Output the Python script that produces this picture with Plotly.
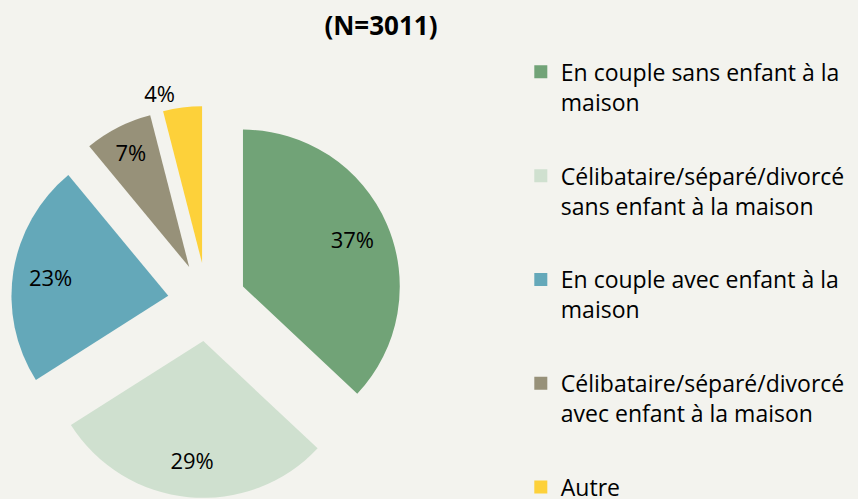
import plotly.graph_objects as go

categories = [
    "En couple sans enfant à la<br>maison",
    "Célibataire/séparé/divorcé<br>sans enfant à la maison",
    "En couple avec enfant à la<br>maison",
    "Célibataire/séparé/divorcé<br>avec enfant à la maison",
    "Autre",
]
values = [37, 29, 23, 7, 4]
colors = ["#71a377", "#cfe0cf", "#64a8b9", "#979179", "#fdd13a"]
title_text = "(N=3011)"

pie_domain = dict(x=[0.0128, 0.4697], y=[0.002, 0.7876])
pulls = [0.25] * len(values)

fig = go.Figure()
# coloured slices
fig.add_trace(go.Pie(
    labels=categories,
    values=values,
    sort=False,
    direction="clockwise",
    rotation=0,
    pull=pulls,
    marker=dict(colors=colors, line=dict(width=0)),
    textinfo="percent",
    texttemplate=["", "", "", "", "%{percent:.0%}"],
    textposition=["none", "none", "none", "none", "outside"],
    textfont=dict(family="Open Sans", size=22, color="#000000"),
    domain=pie_domain,
    hoverinfo="label+percent",
    showlegend=False,
))
# transparent ring carrying the percentage labels further out in each slice
fig.add_trace(go.Pie(
    labels=categories,
    values=values,
    sort=False,
    direction="clockwise",
    rotation=0,
    pull=pulls,
    hole=0.52,
    marker=dict(colors=["rgba(0,0,0,0)"] * len(values), line=dict(width=0)),
    textinfo="percent",
    texttemplate=["%{percent:.0%}"] * 4 + [""],
    textposition=["inside", "inside", "inside", "inside", "none"],
    insidetextorientation="horizontal",
    textfont=dict(family="Open Sans", size=22, color="#000000"),
    domain=pie_domain,
    hoverinfo="skip",
    showlegend=False,
))

for i, (cat, col) in enumerate(zip(categories, colors)):
    fig.add_trace(go.Scatter(
        x=[None], y=[None], mode="markers", name=cat,
        marker=dict(symbol="square", size=13, color=col),
        legendgroup="g%d" % i, showlegend=True, hoverinfo="skip",
    ))

fig.update_layout(
    width=858, height=499,
    margin=dict(l=0, r=0, t=0, b=0, autoexpand=False),
    paper_bgcolor="#f3f3ee",
    plot_bgcolor="#f3f3ee",
    xaxis=dict(visible=False),
    yaxis=dict(visible=False),
    title=dict(text="<b>" + title_text + "</b>", x=0.444, xanchor="center",
               y=0.948, yanchor="middle", yref="container",
               font=dict(family="Open Sans", size=26, color="#000000")),
    legend=dict(x=0.607, xanchor="left", y=0.899, yanchor="top",
                valign="top", bgcolor="rgba(0,0,0,0)",
                traceorder="grouped", tracegroupgap=41,
                font=dict(family="Open Sans", size=23, color="#000000")),
    showlegend=True,
)

fig.write_html("out.html", post_script="document.body.style.margin='0px';",
               config={"displayModeBar": False})
